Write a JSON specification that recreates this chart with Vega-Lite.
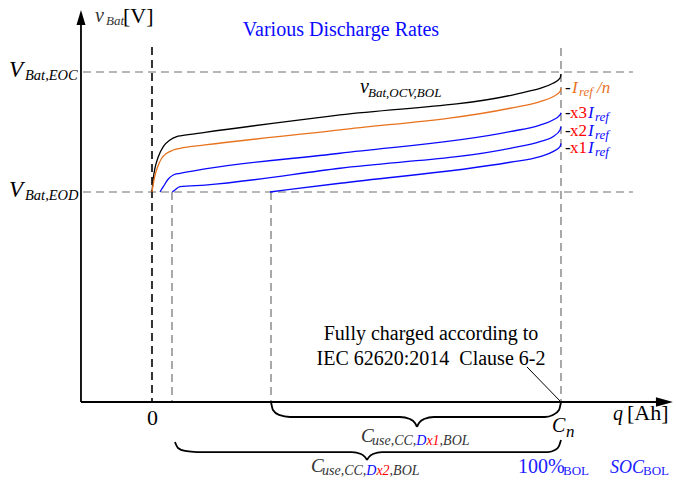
{
  "$schema": "https://vega.github.io/schema/vega-lite/v6.json",
  "width": 676,
  "height": 482,
  "padding": 0,
  "autosize": {"type": "none"},
  "background": "white",
  "config": {"view": {"stroke": null}},
  "encoding": {
    "x": {"field": "q", "type": "quantitative", "scale": {"domain": [-37.16, 128.12], "nice": false, "zero": false}, "axis": null},
    "y": {"field": "v", "type": "quantitative", "scale": {"domain": [-24.167, 16], "nice": false, "zero": false}, "axis": null}
  },
  "layer": [
    {
      "data": {"values": [
        {"id": "eoc", "q": -16.87, "v": 10}, {"id": "eoc", "q": 117.6, "v": 10},
        {"id": "eod", "q": -16.87, "v": 0}, {"id": "eod", "q": 117.6, "v": 0},
        {"id": "cn", "q": 100, "v": 12}, {"id": "cn", "q": 100, "v": -17.5},
        {"id": "d2", "q": 4.89, "v": 0}, {"id": "d2", "q": 4.89, "v": -17.5},
        {"id": "d1", "q": 29.1, "v": 0}, {"id": "d1", "q": 29.1, "v": -17.5}
      ]},
      "mark": {"type": "line", "color": "#707070", "strokeWidth": 1.2, "strokeDash": [8, 5]},
      "encoding": {"detail": {"field": "id"}}
    },
    {
      "data": {"values": [{"id": "zero", "q": 0, "v": 12.08}, {"id": "zero", "q": 0, "v": -17.5}]},
      "mark": {"type": "line", "color": "#333333", "strokeWidth": 2, "strokeDash": [8, 5]},
      "encoding": {"detail": {"field": "id"}}
    },
    {
      "data": {"values": [
        {"id": "yaxis", "q": -17.36, "v": -17.5}, {"id": "yaxis", "q": -17.36, "v": 14.3},
        {"id": "xaxis", "q": -17.36, "v": -17.5}, {"id": "xaxis", "q": 124.2, "v": -17.5}
      ]},
      "mark": {"type": "line", "color": "#000000", "strokeWidth": 1.8},
      "encoding": {"detail": {"field": "id"}}
    },
    {
      "data": {"values": [{"q": -17.36, "v": 14.54}]},
      "mark": {"type": "point", "shape": "M0,-1L0.6,1L-0.6,1Z", "size": 225, "filled": true, "color": "#000000", "opacity": 1}
    },
    {
      "data": {"values": [{"q": 125.3, "v": -17.5}]},
      "mark": {"type": "point", "shape": "M1,0L-1,-0.55L-1,0.55Z", "size": 289, "filled": true, "color": "#000000", "opacity": 1}
    },
    {
      "data": {"values": [{"id": "lead", "q": 91.69, "v": -14.58}, {"id": "lead", "q": 100, "v": -17.5}]},
      "mark": {"type": "line", "color": "#000000", "strokeWidth": 1},
      "encoding": {"detail": {"field": "id"}}
    },
    {
      "data": {"values": [
        {"seg": "b1L", "q": 29.1, "v": -17.5}, {"seg": "b1L", "q": 29.58, "v": -18.17}, {"seg": "b1L", "q": 31.05, "v": -18.58}, {"seg": "b1L", "q": 33.74, "v": -18.75}, {"seg": "b1L", "q": 60.64, "v": -18.75}, {"seg": "b1L", "q": 63.08, "v": -18.92}, {"seg": "b1L", "q": 64.3, "v": -19.25}, {"seg": "b1L", "q": 64.79, "v": -19.58},
        {"seg": "b1R", "q": 64.79, "v": -19.58}, {"seg": "b1R", "q": 65.28, "v": -19.25}, {"seg": "b1R", "q": 66.5, "v": -18.92}, {"seg": "b1R", "q": 68.95, "v": -18.75}, {"seg": "b1R", "q": 96.09, "v": -18.75}, {"seg": "b1R", "q": 98.04, "v": -18.58}, {"seg": "b1R", "q": 99.51, "v": -18.17}, {"seg": "b1R", "q": 100, "v": -17.5},
        {"seg": "b2L", "q": 5.62, "v": -20.83}, {"seg": "b2L", "q": 6.36, "v": -21.33}, {"seg": "b2L", "q": 8.07, "v": -21.58}, {"seg": "b2L", "q": 11.0, "v": -21.67}, {"seg": "b2L", "q": 48.9, "v": -21.67}, {"seg": "b2L", "q": 51.1, "v": -21.83}, {"seg": "b2L", "q": 52.08, "v": -22.08}, {"seg": "b2L", "q": 52.57, "v": -22.33},
        {"seg": "b2R", "q": 52.57, "v": -22.33}, {"seg": "b2R", "q": 53.06, "v": -22.08}, {"seg": "b2R", "q": 54.03, "v": -21.83}, {"seg": "b2R", "q": 56.23, "v": -21.67}, {"seg": "b2R", "q": 96.82, "v": -21.67}, {"seg": "b2R", "q": 98.53, "v": -21.5}, {"seg": "b2R", "q": 99.51, "v": -21.17}, {"seg": "b2R", "q": 100, "v": -20.67}
      ]},
      "mark": {"type": "line", "color": "#000000", "strokeWidth": 1.8, "interpolate": "monotone"},
      "encoding": {"detail": {"field": "seg"}}
    },
    {
      "data": {"values": [
        {"curve": "ocv", "role": "ocv", "q": 0, "v": 0}, {"curve": "ocv", "role": "ocv", "q": 0.32, "v": 1.14}, {"curve": "ocv", "role": "ocv", "q": 0.73, "v": 1.98}, {"curve": "ocv", "role": "ocv", "q": 1.54, "v": 2.94}, {"curve": "ocv", "role": "ocv", "q": 2.76, "v": 3.78}, {"curve": "ocv", "role": "ocv", "q": 4.4, "v": 4.33}, {"curve": "ocv", "role": "ocv", "q": 6.04, "v": 4.61}, {"curve": "ocv", "role": "ocv", "q": 7.26, "v": 4.69}, {"curve": "ocv", "role": "ocv", "q": 12.96, "v": 4.97}, {"curve": "ocv", "role": "ocv", "q": 45.97, "v": 6.42}, {"curve": "ocv", "role": "ocv", "q": 88.02, "v": 8.08}, {"curve": "ocv", "role": "ocv", "q": 92.42, "v": 8.42}, {"curve": "ocv", "role": "ocv", "q": 94.87, "v": 8.64}, {"curve": "ocv", "role": "ocv", "q": 98.04, "v": 9.06}, {"curve": "ocv", "role": "ocv", "q": 99.76, "v": 9.48}, {"curve": "ocv", "role": "ocv", "q": 100, "v": 9.83},
        {"curve": "n", "role": "rate_n", "q": 0, "v": 0}, {"curve": "n", "role": "rate_n", "q": 0.56, "v": 1.14}, {"curve": "n", "role": "rate_n", "q": 1.39, "v": 2.11}, {"curve": "n", "role": "rate_n", "q": 2.37, "v": 2.81}, {"curve": "n", "role": "rate_n", "q": 3.59, "v": 3.23}, {"curve": "n", "role": "rate_n", "q": 5.21, "v": 3.5}, {"curve": "n", "role": "rate_n", "q": 6.85, "v": 3.64}, {"curve": "n", "role": "rate_n", "q": 12.96, "v": 3.92}, {"curve": "n", "role": "rate_n", "q": 45.97, "v": 5.17}, {"curve": "n", "role": "rate_n", "q": 87.53, "v": 6.98}, {"curve": "n", "role": "rate_n", "q": 94.87, "v": 7.53}, {"curve": "n", "role": "rate_n", "q": 98.04, "v": 7.94}, {"curve": "n", "role": "rate_n", "q": 99.76, "v": 8.36}, {"curve": "n", "role": "rate_n", "q": 100, "v": 8.64},
        {"curve": "x3", "role": "rate", "q": 1.96, "v": 0}, {"curve": "x3", "role": "rate", "q": 2.76, "v": 0.44}, {"curve": "x3", "role": "rate", "q": 3.99, "v": 1.08}, {"curve": "x3", "role": "rate", "q": 5.21, "v": 1.42}, {"curve": "x3", "role": "rate", "q": 6.85, "v": 1.56}, {"curve": "x3", "role": "rate", "q": 12.96, "v": 1.92}, {"curve": "x3", "role": "rate", "q": 45.97, "v": 3.23}, {"curve": "x3", "role": "rate", "q": 87.53, "v": 5.03}, {"curve": "x3", "role": "rate", "q": 94.87, "v": 5.58}, {"curve": "x3", "role": "rate", "q": 98.04, "v": 6.0}, {"curve": "x3", "role": "rate", "q": 99.76, "v": 6.42}, {"curve": "x3", "role": "rate", "q": 100, "v": 6.61},
        {"curve": "x2", "role": "rate", "q": 4.96, "v": 0}, {"curve": "x2", "role": "rate", "q": 5.62, "v": 0.17}, {"curve": "x2", "role": "rate", "q": 6.85, "v": 0.44}, {"curve": "x2", "role": "rate", "q": 12.96, "v": 0.58}, {"curve": "x2", "role": "rate", "q": 45.97, "v": 1.98}, {"curve": "x2", "role": "rate", "q": 87.53, "v": 3.64}, {"curve": "x2", "role": "rate", "q": 94.87, "v": 4.19}, {"curve": "x2", "role": "rate", "q": 98.04, "v": 4.61}, {"curve": "x2", "role": "rate", "q": 99.76, "v": 5.17}, {"curve": "x2", "role": "rate", "q": 100, "v": 5.44},
        {"curve": "x1", "role": "rate", "q": 28.85, "v": 0}, {"curve": "x1", "role": "rate", "q": 45.97, "v": 0.73}, {"curve": "x1", "role": "rate", "q": 87.53, "v": 2.48}, {"curve": "x1", "role": "rate", "q": 94.87, "v": 2.94}, {"curve": "x1", "role": "rate", "q": 98.04, "v": 3.36}, {"curve": "x1", "role": "rate", "q": 99.76, "v": 3.78}, {"curve": "x1", "role": "rate", "q": 100, "v": 4.06}
      ]},
      "mark": {"type": "line", "strokeWidth": 1.3, "interpolate": "monotone"},
      "encoding": {
        "detail": {"field": "curve"},
        "color": {"field": "role", "type": "nominal", "scale": {"domain": ["label", "muted", "ocv", "rate_n", "rate", "mult", "soc"], "range": ["#000000", "#333333", "#000000", "#E8731F", "#0A0AFF", "#FF0000", "#2020FF"]}, "legend": null}
      }
    },
    {
      "data": {"values": [{"q": 46.21, "v": 13.0, "t": "Various Discharge Rates", "role": "rate"}]},
      "mark": {"type": "text", "align": "center", "baseline": "alphabetic", "font": "Liberation Serif", "fontSize": 20},
      "encoding": {"text": {"field": "t"}, "color": {"field": "role", "type": "nominal", "legend": null}}
    },
    {
      "data": {"values": [
        {"q": 68.22, "v": -12.33, "t": "Fully charged according to", "role": "label"},
        {"q": 68.22, "v": -14.42, "t": "IEC 62620:2014\u00a0 Clause 6-2", "role": "label"}
      ]},
      "mark": {"type": "text", "align": "center", "baseline": "alphabetic", "font": "Liberation Serif", "fontSize": 20},
      "encoding": {"text": {"field": "t"}, "color": {"field": "role", "type": "nominal", "legend": null}}
    },
    {
      "data": {"values": [
        {"q": -34.96, "v": 9.58, "t": "V", "role": "label"},
        {"q": -34.96, "v": -0.42, "t": "V", "role": "label"}
      ]},
      "mark": {"type": "text", "align": "left", "baseline": "alphabetic", "font": "Liberation Serif", "fontSize": 23, "fontStyle": "italic"},
      "encoding": {"text": {"field": "t"}, "color": {"field": "role", "type": "nominal", "legend": null}}
    },
    {
      "data": {"values": [
        {"q": -31.05, "v": 9.33, "t": "Bat,EOC", "role": "label"},
        {"q": -31.05, "v": -0.67, "t": "Bat,EOD", "role": "label"}
      ]},
      "mark": {"type": "text", "align": "left", "baseline": "alphabetic", "font": "Liberation Serif", "fontSize": 14.5, "fontStyle": "italic"},
      "encoding": {"text": {"field": "t"}, "color": {"field": "role", "type": "nominal", "legend": null}}
    },
    {
      "data": {"values": [
        {"q": -13.94, "v": 14.17, "t": "v", "role": "muted"},
        {"q": 50.86, "v": 8.25, "t": "v", "role": "label"},
        {"q": 112.71, "v": -19.0, "t": "q", "role": "label"},
        {"q": 97.8, "v": -20.0, "t": "C", "role": "label"}
      ]},
      "mark": {"type": "text", "align": "left", "baseline": "alphabetic", "font": "Liberation Serif", "fontSize": 20, "fontStyle": "italic"},
      "encoding": {"text": {"field": "t"}, "color": {"field": "role", "type": "nominal", "legend": null}}
    },
    {
      "data": {"values": [
        {"q": 51.1, "v": -20.83, "t": "C", "role": "muted"},
        {"q": 38.88, "v": -23.33, "t": "C", "role": "muted"}
      ]},
      "mark": {"type": "text", "align": "left", "baseline": "alphabetic", "font": "Liberation Serif", "fontSize": 19, "fontStyle": "italic"},
      "encoding": {"text": {"field": "t"}, "color": {"field": "role", "type": "nominal", "legend": null}}
    },
    {
      "data": {"values": [
        {"q": 53.79, "v": -21.08, "t": "use,CC,", "role": "muted"},
        {"q": 64.62, "v": -21.08, "t": "D", "role": "rate"},
        {"q": 67.09, "v": -21.08, "t": "x1", "role": "mult"},
        {"q": 70.32, "v": -21.08, "t": ",BOL", "role": "muted"},
        {"q": 41.56, "v": -23.58, "t": "use,CC,", "role": "muted"},
        {"q": 52.4, "v": -23.58, "t": "D", "role": "rate"},
        {"q": 54.87, "v": -23.58, "t": "x2", "role": "mult"},
        {"q": 58.09, "v": -23.58, "t": ",BOL", "role": "muted"}
      ]},
      "mark": {"type": "text", "align": "left", "baseline": "alphabetic", "font": "Liberation Serif", "fontSize": 14, "fontStyle": "italic"},
      "encoding": {"text": {"field": "t"}, "color": {"field": "role", "type": "nominal", "legend": null}}
    },
    {
      "data": {"values": [
        {"q": -11.25, "v": 13.92, "t": "Bat", "role": "muted"},
        {"q": 52.81, "v": 7.92, "t": "Bat,OCV,BOL", "role": "label"},
        {"q": 104.4, "v": 8.0, "t": "ref", "role": "rate_n"},
        {"q": 108.31, "v": 5.92, "t": "ref", "role": "rate"},
        {"q": 108.31, "v": 4.42, "t": "ref", "role": "rate"},
        {"q": 108.31, "v": 3.0, "t": "ref", "role": "rate"}
      ]},
      "mark": {"type": "text", "align": "left", "baseline": "alphabetic", "font": "Liberation Serif", "fontSize": 13, "fontStyle": "italic"},
      "encoding": {"text": {"field": "t"}, "color": {"field": "role", "type": "nominal", "legend": null}}
    },
    {
      "data": {"values": [
        {"q": 102.69, "v": 8.25, "t": "I", "role": "rate_n"},
        {"q": 108.8, "v": 8.25, "t": "/n", "role": "rate_n"},
        {"q": 106.6, "v": 6.17, "t": "I", "role": "rate"},
        {"q": 106.6, "v": 4.67, "t": "I", "role": "rate"},
        {"q": 106.6, "v": 3.25, "t": "I", "role": "rate"},
        {"q": 101.22, "v": -20.42, "t": "n", "role": "label"}
      ]},
      "mark": {"type": "text", "align": "left", "baseline": "alphabetic", "font": "Liberation Serif", "fontSize": 17, "fontStyle": "italic"},
      "encoding": {"text": {"field": "t"}, "color": {"field": "role", "type": "nominal", "legend": null}}
    },
    {
      "data": {"values": [
        {"q": 100.98, "v": 8.25, "t": "-", "role": "label"},
        {"q": 100.98, "v": 6.17, "t": "-", "role": "label"},
        {"q": 100.98, "v": 4.67, "t": "-", "role": "label"},
        {"q": 100.98, "v": 3.25, "t": "-", "role": "label"},
        {"q": 102.2, "v": 6.17, "t": "x3", "role": "mult"},
        {"q": 102.2, "v": 4.67, "t": "x2", "role": "mult"},
        {"q": 102.2, "v": 3.25, "t": "x1", "role": "mult"}
      ]},
      "mark": {"type": "text", "align": "left", "baseline": "alphabetic", "font": "Liberation Serif", "fontSize": 17},
      "encoding": {"text": {"field": "t"}, "color": {"field": "role", "type": "nominal", "legend": null}}
    },
    {
      "data": {"values": [
        {"q": -7.09, "v": 14.08, "t": "[V]", "role": "label"},
        {"q": 116.14, "v": -19.0, "t": "[Ah]", "role": "label"},
        {"q": -1.22, "v": -19.42, "t": "0", "role": "label"}
      ]},
      "mark": {"type": "text", "align": "left", "baseline": "alphabetic", "font": "Liberation Serif", "fontSize": 22},
      "encoding": {"text": {"field": "t"}, "color": {"field": "role", "type": "nominal", "legend": null}}
    },
    {
      "data": {"values": [{"q": 89.49, "v": -23.42, "t": "100%", "role": "soc"}]},
      "mark": {"type": "text", "align": "left", "baseline": "alphabetic", "font": "Liberation Serif", "fontSize": 20},
      "encoding": {"text": {"field": "t"}, "color": {"field": "role", "type": "nominal", "legend": null}}
    },
    {
      "data": {"values": [{"q": 111.98, "v": -23.42, "t": "SOC", "role": "soc"}]},
      "mark": {"type": "text", "align": "left", "baseline": "alphabetic", "font": "Liberation Serif", "fontSize": 18, "fontStyle": "italic"},
      "encoding": {"text": {"field": "t"}, "color": {"field": "role", "type": "nominal", "legend": null}}
    },
    {
      "data": {"values": [
        {"q": 100.49, "v": -23.58, "t": "BOL", "role": "soc"},
        {"q": 120.05, "v": -23.58, "t": "BOL", "role": "soc"}
      ]},
      "mark": {"type": "text", "align": "left", "baseline": "alphabetic", "font": "Liberation Serif", "fontSize": 13},
      "encoding": {"text": {"field": "t"}, "color": {"field": "role", "type": "nominal", "legend": null}}
    }
  ]
}
